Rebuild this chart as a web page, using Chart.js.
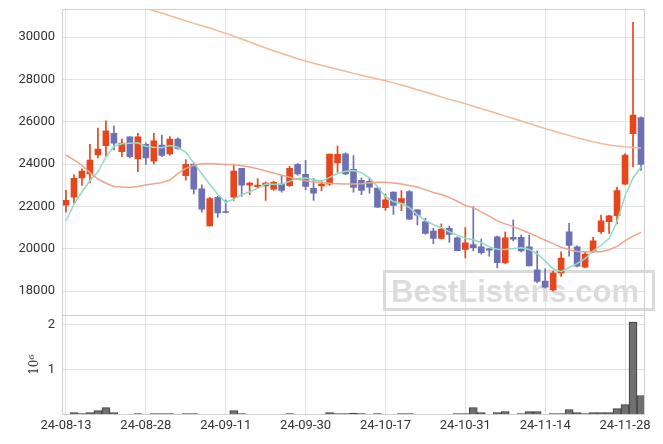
<!DOCTYPE html>
<html>
<head>
<meta charset="utf-8">
<script src="https://cdn.jsdelivr.net/npm/chart.js@4.4.1/dist/chart.umd.min.js"></script>
<style>
  html, body { margin: 0; padding: 0; background: #fff; }
  #wrap { width: 663px; height: 444px; }
</style>
</head>
<body>
<div id="wrap"><canvas id="c" width="663" height="444"></canvas></div>
<script>
// Data
const dates = [
  '24-08-13','24-08-14','24-08-16','24-08-19','24-08-20','24-08-21','24-08-22','24-08-23','24-08-26','24-08-27',
  '24-08-28','24-08-29','24-08-30','24-09-02','24-09-03','24-09-04','24-09-05','24-09-06','24-09-09','24-09-10',
  '24-09-11','24-09-12','24-09-13','24-09-19','24-09-20','24-09-23','24-09-24','24-09-25','24-09-26','24-09-27',
  '24-09-30','24-10-02','24-10-04','24-10-07','24-10-08','24-10-10','24-10-11','24-10-14','24-10-15','24-10-16',
  '24-10-17','24-10-18','24-10-21','24-10-22','24-10-23','24-10-24','24-10-25','24-10-28','24-10-29','24-10-30',
  '24-10-31','24-11-01','24-11-04','24-11-05','24-11-06','24-11-07','24-11-08','24-11-11','24-11-12','24-11-13',
  '24-11-14','24-11-15','24-11-18','24-11-19','24-11-20','24-11-21','24-11-22','24-11-25','24-11-26','24-11-27',
  '24-11-28','24-11-29','24-12-02'
];

const openPrices = [
  22060,22440,23350,23540,24440,24870,25460,24590,25290,24250,
  24940,24140,24900,24480,25190,23460,24000,22840,21080,22430,
  21760,22440,23810,23010,22940,22970,22820,23060,22990,23990,
  23520,22860,22970,23060,24060,24490,23760,23240,23190,22870,
  21950,22680,22160,22710,21840,21290,20840,20490,20970,20520,
  19970,20200,20100,20000,20570,19350,20540,20540,20100,19010,
  18480,18060,18860,20810,20100,19140,19900,20810,21290,21570,
  23060,25440,26200
];
const highPrices = [
  22760,23510,23780,24940,25700,26050,25810,25190,25290,25460,
  25010,25460,25380,25300,25240,24220,24060,23030,22430,22480,
  22320,23950,23810,23140,23320,23150,23190,23480,23900,24030,
  24180,23320,23220,24480,24860,24540,24410,23350,23330,22900,
  22590,22700,22750,22750,21860,21440,20970,21180,21080,20570,
  21010,22000,20460,20020,20600,20810,21370,20650,20650,19900,
  19060,18950,19860,21210,20140,19860,20540,21600,21580,22920,
  24490,30700,26240
];
const lowPrices = [
  21730,22160,23000,23110,24300,24380,24670,24350,24300,23650,
  23990,24010,24350,24430,24700,23240,22600,21730,21080,21480,
  21700,22290,22480,22560,22840,22290,22760,22680,22950,23480,
  22800,22290,22750,23000,23620,23500,22680,22560,22630,21950,
  21820,21630,21800,21380,21130,20700,20250,20470,20300,19900,
  19570,19900,19750,19650,19110,19300,20380,19860,19190,18400,
  18150,18000,18700,19650,19150,19110,19820,20730,20730,21180,
  23040,23870,23700
];
const closePrices = [
  22290,23330,23670,24190,24710,25570,24990,25000,24350,25290,
  24300,25100,24410,25190,24750,23990,22820,21870,22370,21700,
  21720,23670,23010,23110,23010,23110,23140,22760,23810,23540,
  22950,22630,23060,24480,24460,23540,22900,22760,22920,21970,
  22320,22050,22370,21400,21590,20730,20490,20940,20680,19920,
  20290,20060,19820,19940,19350,20520,20460,19900,19190,18460,
  18190,18860,19570,20160,19180,19750,20380,21320,21560,22750,
  24430,26320,23990
];
const volumes = [
  15000,52000,30000,52000,96000,163000,52000,8000,8000,30000,
  8000,30000,30000,30000,8000,30000,30000,8000,8000,8000,
  8000,96000,30000,8000,8000,8000,8000,8000,30000,8000,
  8000,8000,0,52000,30000,30000,44000,30000,8000,30000,
  8000,8000,30000,30000,8000,8000,8000,8000,8000,30000,
  30000,163000,52000,8000,52000,74000,8000,30000,74000,74000,
  8000,30000,30000,118000,52000,30000,52000,52000,52000,140000,
  230000,2050000,430000
];

// Moving averages as drawn
const ma5 = [
  21330,22100,22700,23230,23640,24330,24850,24960,24990,25010,
  24850,24800,24780,24880,24800,24560,24060,23550,23050,22580,
  22190,22350,22555,22700,22870,23060,23050,23050,23190,23320,
  23350,23270,23190,23380,23560,23670,23700,23600,23350,22950,
  22480,22240,22140,21950,21620,21330,21140,21000,20810,20650,
  20500,20430,20300,20095,19985,19970,20015,20050,19970,19780,
  19420,19060,18920,19120,19300,19540,19890,20170,20490,21290,
  22500,23350,23870
];
const ma20 = [
  24430,24200,23950,23600,23300,23100,22950,22920,22900,22950,
  23020,23080,23130,23250,23550,23800,23950,24020,24030,24010,
  23990,23980,23930,23870,23780,23680,23580,23480,23380,23290,
  23220,23170,23130,23100,23080,23060,23060,23080,23120,23150,
  23150,23110,23060,22990,22920,22800,22660,22570,22430,22250,
  22050,21950,21750,21550,21320,21180,21050,20900,20750,20580,
  20410,20250,20080,19960,19880,19860,19860,19860,19960,20120,
  20380,20600,20780
];
const ma120 = [
  32500,32380,32260,32140,32030,31920,31800,31690,31580,31470,
  31360,31250,31140,31010,30890,30770,30650,30540,30430,30300,
  30180,30040,29910,29770,29630,29490,29360,29230,29110,28980,
  28870,28770,28670,28580,28480,28390,28290,28200,28110,28020,
  27940,27840,27740,27630,27520,27410,27290,27180,27060,26960,
  26860,26740,26620,26510,26390,26270,26160,26040,25920,25800,
  25680,25570,25460,25360,25250,25150,25060,24980,24910,24860,
  24820,24790,24770
];

const priceTicks = [18000, 20000, 22000, 24000, 26000, 28000, 30000];
const volumeTicks = [1000000, 2000000];
const watermark = 'BestListens.com';

// Styles
const upColor = '#e5461b';
const downColor = '#6d71b3';
const gridColor = '#e2e2e2';
const frameColor = '#cfcfcf';
const tickFont = { family: 'Roboto', size: 13 };

const bodies = dates.map((d, i) => [openPrices[i], closePrices[i]]);
const wicks = dates.map((d, i) => [lowPrices[i], highPrices[i]]);
const candleColors = dates.map((d, i) => closePrices[i] >= openPrices[i] ? upColor : downColor);

function noPad(s) {
  s.paddingTop = 0;
  s.paddingBottom = 0;
  s.paddingLeft = 0;
  s.paddingRight = 0;
}

const framePlugin = {
  id: 'frame',
  beforeDatasetsDraw(chart) {
    const ctx = chart.ctx;
    ctx.save();
    ctx.strokeStyle = '#dadada';
    ctx.lineWidth = 3;
    ctx.strokeRect(384.5, 271.5, 269, 38);
    ctx.font = 'bold 31px "Liberation Sans"';
    ctx.fillStyle = '#dcdcdc';
    ctx.fillText(watermark, 391, 302);
    ctx.restore();
  },
  afterDraw(chart) {
    const ctx = chart.ctx;
    const a = chart.chartArea;
    const sep = Math.round(chart.scales.yv.top) + 0.5;
    ctx.save();
    ctx.strokeStyle = frameColor;
    ctx.lineWidth = 1;
    ctx.strokeRect(Math.round(a.left) + 0.5, Math.round(a.top) + 0.5,
      Math.round(a.right - a.left) - 1, Math.round(a.bottom - a.top) - 1);
    ctx.beginPath();
    ctx.moveTo(a.left, sep);
    ctx.lineTo(a.right, sep);
    ctx.stroke();
    ctx.restore();
  }
};

new Chart(document.getElementById('c'), {
  data: {
    labels: dates,
    datasets: [
      { type: 'line', data: ma120, borderColor: '#efba95', borderWidth: 1.5, pointRadius: 0, yAxisID: 'y', order: 1 },
      { type: 'line', data: ma20, borderColor: '#eea58a', borderWidth: 1.5, pointRadius: 0, yAxisID: 'y', order: 1 },
      { type: 'line', data: ma5, borderColor: '#92dcc2', borderWidth: 1.5, pointRadius: 0, yAxisID: 'y', order: 1 },
      { type: 'bar', data: bodies, backgroundColor: candleColors, barThickness: 6, grouped: false, yAxisID: 'y', order: 2 },
      { type: 'bar', data: wicks, backgroundColor: candleColors, barThickness: 1, grouped: false, yAxisID: 'y', order: 3 },
      { type: 'bar', data: volumes, backgroundColor: '#707070', borderColor: '#3c3c3c', borderWidth: 1,
        barPercentage: 1, categoryPercentage: 1, grouped: false, yAxisID: 'yv', order: 4 }
    ]
  },
  options: {
    responsive: false,
    animation: false,
    layout: { padding: { top: 9, right: 18, left: 0, bottom: 0 } },
    plugins: { legend: { display: false }, tooltip: { enabled: false } },
    scales: {
      x: {
        type: 'category',
        offset: true,
        grid: { offset: false, color: gridColor, drawTicks: false },
        border: { display: false },
        ticks: {
          autoSkip: false, maxRotation: 0, padding: 3, font: tickFont, color: '#333',
          callback(v, i) { return i % 10 === 0 ? this.getLabelForValue(v) : null; }
        },
        afterFit(s) { s.height = 29; noPad(s); }
      },
      y: {
        type: 'linear', position: 'left', stack: 'p', stackWeight: 304, weight: 2,
        min: 16900, max: 31330,
        afterBuildTicks(s) { s.ticks = priceTicks.map(v => ({ value: v })); },
        grid: { color: gridColor, drawTicks: false },
        border: { display: false },
        ticks: { padding: 7, font: tickFont, color: '#333', callback: v => String(v) },
        afterFit(s) { s.width = 62; noPad(s); }
      },
      yv: {
        type: 'linear', position: 'left', stack: 'p', stackWeight: 100, weight: 1,
        min: 0, max: 2220000,
        afterBuildTicks(s) { s.ticks = volumeTicks.map(v => ({ value: v })); },
        grid: { color: gridColor, drawTicks: false },
        border: { display: false },
        ticks: { padding: 7, font: tickFont, color: '#333', callback: v => String(v / 1000000) },
        title: { display: true, text: '10⁶', font: { family: 'DejaVu Serif', size: 12 }, color: '#333',
          padding: { top: 28, bottom: 0 } },
        afterFit(s) { s.width = 62; noPad(s); }
      }
    }
  },
  plugins: [framePlugin]
});
</script>
</body>
</html>
